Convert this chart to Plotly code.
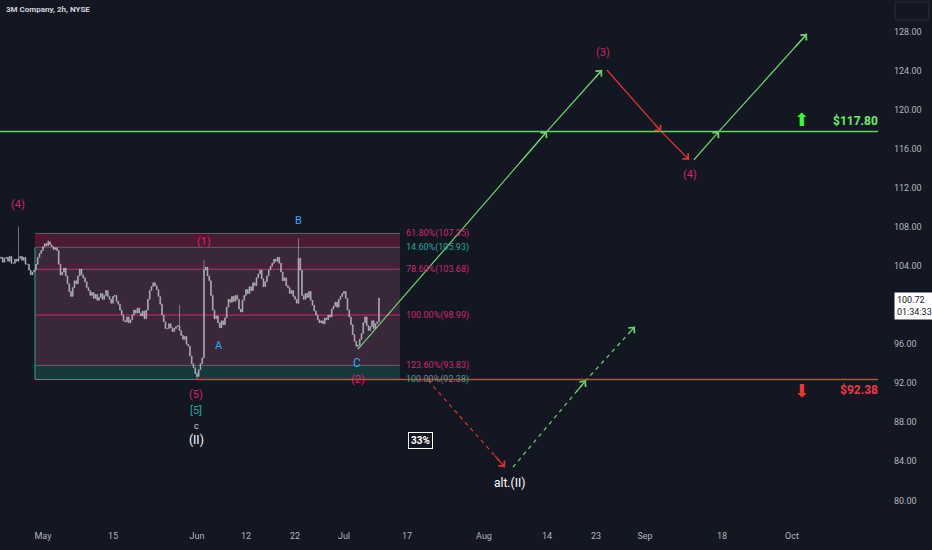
import plotly.graph_objects as go
import numpy as np

BG = "#131722"
PINK = "#d6246e"
CYAN = "#2fa8e8"
TEAL = "#26a69a"
GREEN = "#5cd65c"
RED = "#e53935"
AXIS_TXT = "#b2b5be"
FONT = "Roboto"

# 2h closes, four bars per trading day, starting Apr 21 (x in trading days since May 1)
close = [
    104.9, 104.4, 104.8,
    104.9, 104.5, 105.0, 104.3,
    104.3, 104.7, 104.5, 104.8,
    105.0, 104.6, 104.9, 104.2,
    104.2, 103.6, 103.1, 103.4,
    103.6, 104.2, 104.9, 105.3,
    105.6, 106.0, 106.3, 106.1,
    106.5, 106.2, 106.0, 105.7,
    105.9, 105.6, 104.2, 103.1,
    103.4, 103.8, 103.0, 102.2,
    101.4, 100.9, 101.8, 102.5,
    102.2, 103.0, 103.7, 103.1,
    102.8, 102.4, 101.8, 101.5,
    101.0, 101.3, 100.7, 101.1,
    100.5, 100.8, 101.2, 100.6,
    101.0, 101.5, 100.9, 100.6,
    100.2, 100.9, 101.0, 100.4,
    100.1, 99.5, 99.0, 98.4,
    98.3, 98.8, 98.2, 98.5,
    99.0, 99.5, 99.2, 99.7,
    99.2, 98.9, 99.4, 98.6,
    99.5, 100.6, 101.5, 101.9,
    102.3, 102.0, 101.6, 100.9,
    100.1, 99.0, 98.3, 97.6,
    97.6, 98.1, 97.7, 97.3,
    97.6, 97.8, 97.9, 97.4,
    96.9, 96.5, 96.8, 96.0,
    95.8, 94.8, 94.0, 93.6,
    93.0, 92.7, 93.4, 94.0,
    94.6, 103.6, 103.9, 103.0,
    102.5, 101.0, 99.5, 98.6,
    98.9, 98.2, 97.7, 98.4,
    98.0, 98.7, 99.8, 100.6,
    100.3, 100.9, 100.4, 101.0,
    100.6, 99.6, 99.3, 100.5,
    101.0, 101.6, 101.2, 101.9,
    101.5, 102.3, 102.0, 102.8,
    103.2, 103.6, 102.7, 101.9,
    102.4, 103.0, 103.6, 104.0,
    104.3, 104.7, 104.5, 104.9,
    104.3, 103.4, 102.5, 102.8,
    102.0, 101.8, 101.2, 101.5,
    100.9, 100.6, 100.2, 104.8,
    103.6, 101.0, 100.6, 101.2,
    100.8, 101.4, 100.5, 100.0,
    99.4, 99.0, 98.5, 98.2,
    98.4, 98.1, 98.7, 98.5,
    99.0, 98.8, 99.6, 99.9,
    100.3, 99.8, 100.6, 100.9,
    101.2, 101.4, 100.7, 99.5,
    98.8, 98.0, 97.0, 96.3,
    95.8, 95.9, 96.5, 97.1,
    98.2, 98.8, 97.9, 97.4,
    97.8, 98.4, 97.6, 98.1,
    98.3, 100.72,
]
first_open = 104.8
wick_highs = {10: 108.05, 27: 106.7, 102: 100.0, 116: 104.6, 170: 106.85}
wick_lows = {112: 92.38, 204: 95.5}
first_bar_day = -6

# x axis ticks (trading-day index)
tick_days = [0, 10, 22, 29, 36, 43, 52, 63, 72, 79, 86, 97, 107]
tick_text = ["May", "15", "Jun", "12", "22", "Jul", "17", "Aug", "14", "23", "Sep", "18", "Oct"]
# 100.00 sits under the live price label, so it is not shown
price_ticks = [80, 84, 88, 92, 96, 104, 108, 112, 116, 120, 124, 128]

# fibonacci box
fib_x = [-1.14, 51.0]
fib_levels = [107.35, 105.93, 103.68, 98.99, 93.83, 92.38]
fib_names = ["61.80%(107.35)", "14.60%(105.93)", "78.60%(103.68)",
             "100.00%(98.99)", "123.60%(93.83)", "100.00%(92.38)"]
fib_text_colors = [PINK, TEAL, PINK, PINK, PINK, "#4f9b8f"]
fib_line_colors = [PINK, "#5d606b", PINK, PINK, PINK, TEAL]

# key levels
bull_level = 117.80
bear_level = 92.38
bull_x = [-6.2, 119.3]
bear_x = [22.0, 119.3]

# projected wave paths
up1_x, up1_y = [45.0, 72.0, 79.86], [95.5, 117.8, 124.1]
down1_x, down1_y = [80.57, 88.3, 92.29], [124.1, 117.8, 114.9]
up2_x, up2_y = [93.0, 96.57, 109.14], [114.9, 117.8, 127.8]
alt_down_x, alt_down_y = [55.0, 66.0], [92.3, 83.4]
alt_up_x, alt_up_y = [67.14, 77.57, 84.57], [83.4, 92.3, 97.8]

# wave labels: (text, x, y, color, size)
wave_labels = [
    ("(4)", -3.57, 110.27, PINK, 11),
    ("(1)", 23.0, 106.48, PINK, 11),
    ("B", 36.57, 108.63, CYAN, 11),
    ("A", 25.14, 95.92, CYAN, 11),
    ("C", 44.86, 94.08, CYAN, 12),
    ("(2)", 45.0, 92.34, PINK, 11),
    ("(5)", 21.86, 90.9, PINK, 11),
    ("[5]", 21.86, 89.16, TEAL, 11),
    ("c", 21.86, 87.62, "#d1d4dc", 9),
    ("(II)", 22.0, 86.19, "#ffffff", 12),
    ("alt.(II)", 66.71, 81.78, "#ffffff", 12),
    ("(3)", 80.0, 125.94, PINK, 11),
    ("(4)", 92.43, 113.44, PINK, 11),
]

opens = [first_open] + close[:-1]
highs = [max(o, c) for o, c in zip(opens, close)]
lows = [min(o, c) for o, c in zip(opens, close)]
for k, v in wick_highs.items():
    highs[k] = v
for k, v in wick_lows.items():
    lows[k] = v
bar_x = first_bar_day + 0.25 * np.arange(len(close))

fig = go.Figure()

candle_col = "rgba(190,192,200,0.8)"
fig.add_trace(go.Candlestick(
    x=bar_x, open=opens, high=highs, low=lows, close=close,
    increasing=dict(line=dict(color=candle_col, width=0.7), fillcolor=candle_col),
    decreasing=dict(line=dict(color=candle_col, width=0.7), fillcolor=candle_col),
    whiskerwidth=0, hoverinfo="skip", showlegend=False,
))

shapes = []
# fib bands
bands = [(fib_levels[0], fib_levels[1], "#4a1932"),
         (fib_levels[1], fib_levels[4], "#38283a"),
         (fib_levels[4], fib_levels[5], "#16393a")]
for top, bot, col in bands:
    shapes.append(dict(type="rect", xref="x", yref="y", x0=fib_x[0], x1=fib_x[1],
                       y0=bot, y1=top, fillcolor=col, line=dict(width=0), layer="below"))
for lvl, col in zip(fib_levels, fib_line_colors):
    shapes.append(dict(type="line", xref="x", yref="y", x0=fib_x[0], x1=fib_x[1],
                       y0=lvl, y1=lvl, line=dict(color=col, width=1), layer="below"))
shapes.append(dict(type="line", xref="x", yref="y", x0=fib_x[0], x1=fib_x[0],
                   y0=fib_levels[5], y1=fib_levels[1], line=dict(color=TEAL, width=1), layer="below"))

# key horizontal levels
shapes.append(dict(type="line", xref="x", yref="y", x0=bull_x[0], x1=bull_x[1],
                   y0=bull_level, y1=bull_level, line=dict(color=GREEN, width=1.6)))
shapes.append(dict(type="line", xref="x", yref="y", x0=bear_x[0], x1=bear_x[1],
                   y0=bear_level, y1=bear_level, line=dict(color=RED, width=1.4)))

# small button box in the top right corner
shapes.append(dict(type="rect", xref="paper", yref="paper", x0=1.0025, x1=1.040,
                   y0=0.9615, y1=0.996, line=dict(color="#2a2e39", width=1)))

annotations = []


def add_path(xs, ys, color, dash):
    fig.add_trace(go.Scatter(x=xs, y=ys, mode="lines", hoverinfo="skip", showlegend=False,
                             line=dict(color=color, width=1.2, dash=dash)))
    for i in range(1, len(xs)):
        x0, y0, x1, y1 = xs[i - 1], ys[i - 1], xs[i], ys[i]
        annotations.append(dict(
            x=x1, y=y1, ax=x1 - 0.15 * (x1 - x0), ay=y1 - 0.15 * (y1 - y0),
            xref="x", yref="y", axref="x", ayref="y", text="", showarrow=True,
            arrowhead=4, arrowsize=1.3, arrowwidth=1.2, arrowcolor=color,
        ))


add_path(up1_x, up1_y, "#6fd46f", "solid")
add_path(down1_x, down1_y, "#e0342f", "solid")
add_path(up2_x, up2_y, "#6fd46f", "solid")
add_path(alt_down_x, alt_down_y, "#e0342f", "4px,4px")
add_path(alt_up_x, alt_up_y, "#6fd46f", "4px,4px")

for lvl, name, col in zip(fib_levels, fib_names, fib_text_colors):
    annotations.append(dict(x=fib_x[1] + 0.57, y=lvl, xref="x", yref="y", text=name,
                            showarrow=False, xanchor="left", yanchor="middle",
                            font=dict(family=FONT, size=9, color=col)))

for txt, x, y, col, size in wave_labels:
    annotations.append(dict(x=x, y=y, xref="x", yref="y", text=txt, showarrow=False,
                            font=dict(family=FONT, size=size, color=col)))

annotations.append(dict(x=54.0, y=86.09, xref="x", yref="y", text="<b>33%</b>", showarrow=False,
                        font=dict(family=FONT, size=10, color="#ffffff"),
                        bordercolor="#ffffff", borderwidth=1, borderpad=2, bgcolor=BG))

annotations.append(dict(x=116.14, y=118.87, xref="x", yref="y", text=f"<b>${bull_level:.2f}</b>",
                        showarrow=False, font=dict(family=FONT, size=12, color="#66ee66")))
annotations.append(dict(x=116.57, y=91.31, xref="x", yref="y", text=f"<b>${bear_level:.2f}</b>",
                        showarrow=False, font=dict(family=FONT, size=12, color="#f23645")))
annotations.append(dict(x=108.3, y=118.98, xref="x", yref="y", text="⬆", showarrow=False,
                        font=dict(family="DejaVu Sans", size=18, color="#33ff33")))
annotations.append(dict(x=108.3, y=91.21, xref="x", yref="y", text="⬇", showarrow=False,
                        font=dict(family="DejaVu Sans", size=18, color="#f2362b")))

annotations.append(dict(x=1.0, y=close[-1], xref="paper", yref="y", xanchor="left",
                        yanchor="middle", yshift=-8, xshift=1, showarrow=False, align="left",
                        text=f"{close[-1]:.2f}<br>01:34:33", bgcolor="#ffffff", borderpad=2,
                        font=dict(family=FONT, size=9, color=BG)))

annotations.append(dict(x=0.004, y=0.995, xref="paper", yref="paper", xanchor="left",
                        yanchor="top", text="<b>3M Company, 2h, NYSE</b>", showarrow=False,
                        font=dict(family=FONT, size=8, color="#d1d4dc")))

fig.update_layout(
    width=932, height=550,
    paper_bgcolor=BG, plot_bgcolor=BG,
    margin=dict(l=0, r=39, t=0, b=30),
    showlegend=False,
    font=dict(family=FONT, color=AXIS_TXT),
    shapes=shapes,
    annotations=annotations,
    xaxis=dict(
        range=[-6.14, 121.43], tickvals=tick_days, ticktext=tick_text,
        showgrid=False, zeroline=False, showline=False,
        ticks="outside", ticklen=7, tickcolor=BG,
        tickfont=dict(family=FONT, size=9, color=AXIS_TXT),
        rangeslider=dict(visible=False), fixedrange=True,
    ),
    yaxis=dict(
        range=[77.99, 131.27], side="right", tickvals=price_ticks,
        ticktext=[f"{v:.2f}" for v in price_ticks],
        showgrid=False, zeroline=False, showline=False, ticks="",
        tickfont=dict(family=FONT, size=9, color=AXIS_TXT), fixedrange=True,
    ),
)

fig.write_html("out.html", config={"displayModeBar": False},
               post_script="document.body.style.margin='0px';")
